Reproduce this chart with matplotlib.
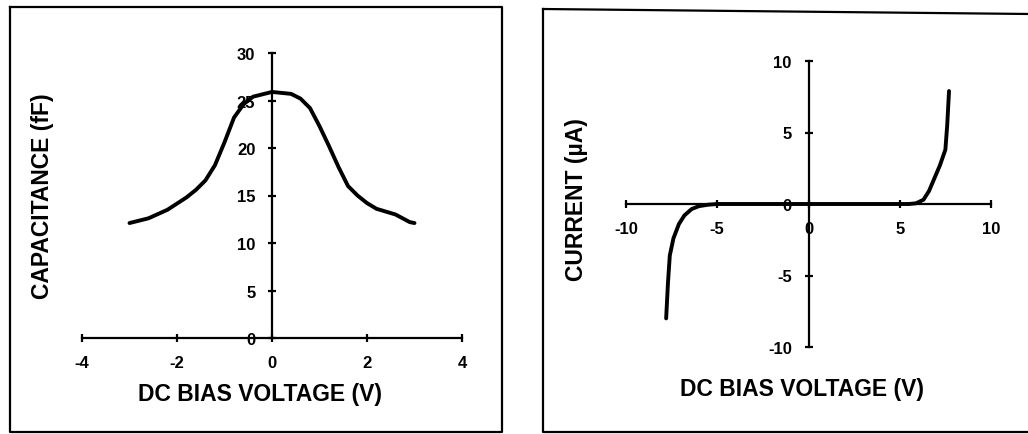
import numpy as np
import matplotlib.pyplot as plt
from matplotlib.lines import Line2D

# capacitance vs bias (left panel)
cv_volts = [-3.0, -2.6, -2.2, -1.8, -1.6, -1.4, -1.2, -1.0, -0.8, -0.6, -0.4, 0.0, 0.4, 0.6, 0.8, 1.0, 1.2, 1.4, 1.6, 1.8, 2.0, 2.2, 2.6, 2.9, 3.0]
cv_cap = [12.1, 12.6, 13.5, 14.8, 15.6, 16.6, 18.2, 20.6, 23.2, 24.6, 25.4, 25.9, 25.7, 25.2, 24.2, 22.3, 20.2, 18.0, 16.0, 15.0, 14.2, 13.6, 13.0, 12.2, 12.1]

# current vs bias (right panel)
iv_volts = [-7.8, -7.7, -7.6, -7.4, -7.1, -6.8, -6.4, -6.0, -5.5, -5.0, 0.0, 5.0, 5.5, 5.9, 6.3, 6.6, 6.9, 7.2, 7.5, 7.6, 7.7]
iv_curr = [-8.0, -5.5, -3.6, -2.4, -1.4, -0.8, -0.35, -0.15, -0.05, 0.0, 0.0, 0.0, 0.0, 0.05, 0.3, 0.9, 1.8, 2.7, 3.8, 5.5, 7.9]

cv_xticks = [-4, -2, 0, 2, 4]
cv_yticks = [0, 5, 10, 15, 20, 25, 30]
iv_xticks = [-10, -5, 0, 5, 10]
iv_yticks = [-10, -5, 0, 5, 10]

plt.rcParams['font.family'] = ['Liberation Sans', 'DejaVu Sans']
plt.rcParams['font.weight'] = 'bold'

W, H = 1028, 435
fig = plt.figure(figsize=(W / 100, H / 100), dpi=100)
fig.patch.set_facecolor('white')


def px_rect(x0, y0, x1, y1):
    # pixel box (top-left origin) -> figure fraction [left, bottom, width, height]
    return [x0 / W, 1 - y1 / H, (x1 - x0) / W, (y1 - y0) / H]


def style_axes(ax, xticks, yticks):
    for s in ['top', 'right']:
        ax.spines[s].set_visible(False)
    for s in ['left', 'bottom']:
        ax.spines[s].set_position('zero')
        ax.spines[s].set_linewidth(1.6)
    ax.set_xticks(xticks)
    ax.set_yticks(yticks)
    ax.set_xticklabels([str(t) for t in xticks])
    ax.set_yticklabels([str(t) for t in yticks])
    ax.tick_params(axis='both', direction='inout', length=6, width=1.6, labelsize=12)
    ax.tick_params(axis='x', pad=9)
    ax.tick_params(axis='y', pad=9)
    for lab in ax.get_xticklabels() + ax.get_yticklabels():
        lab.set_fontweight('bold')
    ax.patch.set_alpha(0)


# left panel
ax1 = fig.add_axes(px_rect(82, 54, 462, 339))
ax1.plot(cv_volts, cv_cap, color='black', lw=2.8, solid_capstyle='round', solid_joinstyle='round')
ax1.set_xlim(-4, 4)
ax1.set_ylim(0, 30)
style_axes(ax1, cv_xticks, cv_yticks)

# right panel
ax2 = fig.add_axes(px_rect(626, 62, 991, 348))
ax2.plot(iv_volts, iv_curr, color='black', lw=2.8, solid_capstyle='round', solid_joinstyle='round')
ax2.set_xlim(-10, 10)
ax2.set_ylim(-10, 10)
style_axes(ax2, iv_xticks, iv_yticks)

# axis titles
fs = 16.5
fig.text(260 / W, 1 - 395 / H, 'DC BIAS VOLTAGE (V)', ha='center', va='center', fontsize=fs, fontweight='bold')
fig.text(43 / W, 1 - 196 / H, 'CAPACITANCE (fF)', ha='center', va='center', rotation=90, fontsize=fs, fontweight='bold')
fig.text(802 / W, 1 - 390 / H, 'DC BIAS VOLTAGE (V)', ha='center', va='center', fontsize=fs, fontweight='bold')
fig.text(576 / W, 1 - 200 / H, 'CURRENT (\u00b5A)', ha='center', va='center', rotation=90, fontsize=fs, fontweight='bold')

# panel frames
frame_kw = dict(color='black', lw=1.6, transform=fig.transFigure)
for xs, ys in [([10, 502, 502, 10, 10], [8, 8, 433, 433, 8]),
               ([543, 1030], [10, 15]),
               ([543, 543, 1030], [10, 433, 433])]:
    fig.add_artist(Line2D([x / W for x in xs], [1 - y / H for y in ys], **frame_kw))

plt.savefig('out.png', dpi=100)
plt.close()
